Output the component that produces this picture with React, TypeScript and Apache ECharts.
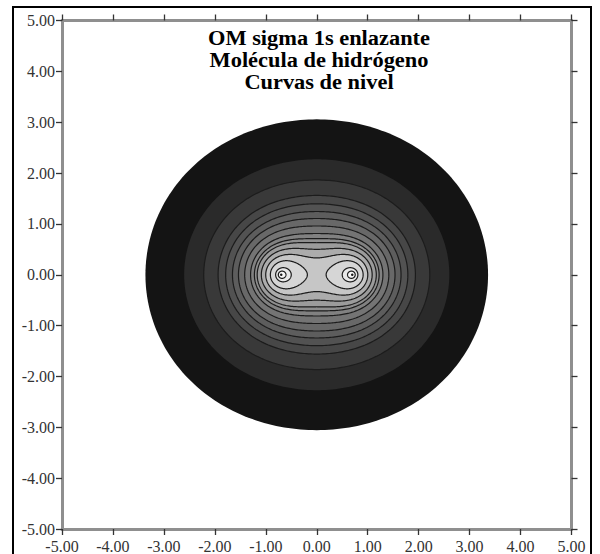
import React, { useEffect, useRef } from "react";
import * as echarts from "echarts";

// ---- data ----
const titleLines = ["OM sigma 1s enlazante", "Molécula de hidrógeno", "Curvas de nivel"];
const axisMin = -5;
const axisMax = 5;
const tickStep = 1;
// nuclei of H2 on the x axis (bohr), 1s Slater exponent
const nucleiX = [-0.7, 0.7];
const orbitalExponent = 1.0;
// orbital values of the contour levels, outermost first
const contourLevels = [0.087, 0.186, 0.273, 0.362, 0.42, 0.48, 0.54, 0.61, 0.685, 0.738, 0.78, 0.846, 0.922, 1.01, 1.12, 1.18, 1.235];
// grey fill inside each level
const bandColors = [
  "#141414", "#2a2a2a", "#393939", "#474747", "#525252", "#5d5d5d", "#686868", "#747474",
  "#818181", "#8e8e8e", "#9b9b9b", "#acacac", "#c6c6c6", "#d6d6d6", "#e8e8e8", "#f6f6f6", "#555555",
];

const SERIF = "Liberation Serif, Times New Roman, serif";

function psi(x: number, y: number): number {
  let s = 0;
  for (const nx of nucleiX) s += Math.exp(-orbitalExponent * Math.hypot(x - nx, y));
  return s;
}

function traceContour(level: number, cx: number, cy: number, steps = 240): number[][] {
  const pts: number[][] = [];
  for (let k = 0; k < steps; k++) {
    const a = (2 * Math.PI * k) / steps;
    const dx = Math.cos(a);
    const dy = Math.sin(a);
    let r0 = 0;
    let r1 = 0;
    const dr = 0.01;
    while (r1 < 8 && psi(cx + dx * r1, cy + dy * r1) >= level) {
      r0 = r1;
      r1 += dr;
    }
    for (let i = 0; i < 30; i++) {
      const m = (r0 + r1) / 2;
      if (psi(cx + dx * m, cy + dy * m) >= level) r0 = m;
      else r1 = m;
    }
    const r = (r0 + r1) / 2;
    pts.push([cx + dx * r, cy + dy * r]);
  }
  return pts;
}

export default function App() {
  const ref = useRef<HTMLDivElement>(null);

  useEffect(() => {
    if (!ref.current) return;
    const chart = echarts.init(ref.current, undefined, { renderer: "svg" });
    const centerValue = psi(0, 0);

    const axisLine = { show: true, onZero: false, lineStyle: { color: "#8f8f8f", width: 3 } };
    const axisTick = { show: true, inside: false, length: 6, lineStyle: { color: "#333", width: 1.3 } };
    const fmt = (v: number) => v.toFixed(2);

    const option: any = {
      animation: false,
      backgroundColor: "#fff",
      grid: { left: 62, right: 28.5, top: 20.5, bottom: 24, containLabel: false },
      xAxis: [
        {
          type: "value", min: axisMin, max: axisMax, interval: tickStep, position: "bottom",
          axisLine, axisTick, splitLine: { show: false },
          axisLabel: { show: true, margin: 9, formatter: fmt, fontFamily: SERIF, fontSize: 16, color: "#333" },
        },
        {
          type: "value", min: axisMin, max: axisMax, interval: tickStep, position: "top",
          axisLine, axisTick, splitLine: { show: false }, axisLabel: { show: false },
        },
      ],
      yAxis: [
        {
          type: "value", min: axisMin, max: axisMax, interval: tickStep, position: "left",
          axisLine, axisTick, splitLine: { show: false },
          axisLabel: { show: true, margin: 7, formatter: fmt, fontFamily: SERIF, fontSize: 16, color: "#333" },
        },
        {
          type: "value", min: axisMin, max: axisMax, interval: tickStep, position: "right",
          axisLine, axisTick, splitLine: { show: false }, axisLabel: { show: false },
        },
      ],
      series: [
        {
          type: "custom",
          xAxisIndex: 0,
          yAxisIndex: 0,
          clip: false,
          z: 1,
          data: contourLevels.map((L) => [0, L]),
          renderItem: (params: any, api: any) => {
            const idx = params.dataIndex;
            const level = contourLevels[idx];
            const centers = level > centerValue ? nucleiX.map((x) => [x, 0]) : [[0, 0]];
            return {
              type: "group",
              children: centers.map(([cx, cy]) => ({
                type: "polygon",
                shape: { points: traceContour(level, cx, cy).map((p) => api.coord(p)) },
                style: {
                  fill: bandColors[idx],
                  stroke: "#1c1c1c",
                  lineWidth: idx < 2 ? 0 : 1.2,
                },
              })),
            };
          },
        },
      ],
      graphic: [
        ...titleLines.map((t, i) => ({
          type: "text",
          z: 100,
          x: 319,
          y: 38.5 + i * 22,
          scaleX: 1.12,
          style: {
            text: t,
            align: "center",
            verticalAlign: "middle",
            fontFamily: SERIF,
            fontWeight: "bold",
            fontSize: 20,
            fill: "#000",
          },
        })),
        {
          type: "rect",
          z: 100,
          shape: { x: 13, y: 7, width: 578, height: 560 },
          style: { fill: "none", stroke: "#000", lineWidth: 2 },
        },
      ],
    };
    chart.setOption(option);
    return () => chart.dispose();
  }, []);

  return (
    <div
      ref={ref}
      style={{ position: "absolute", left: 0, top: 0, width: 600, height: 554 }}
    />
  );
}
